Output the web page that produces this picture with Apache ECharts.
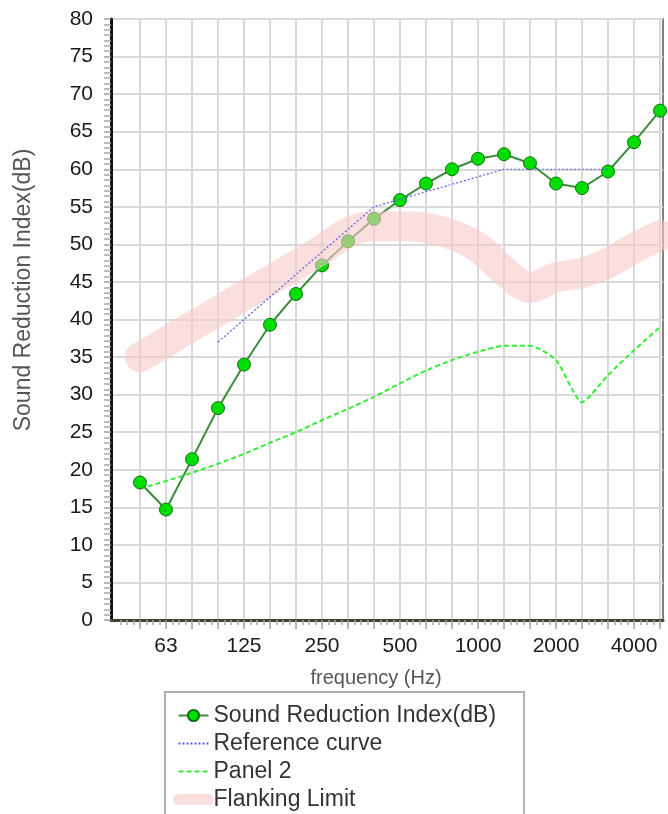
<!DOCTYPE html>
<html><head><meta charset="utf-8">
<script src="https://cdn.jsdelivr.net/npm/echarts@6/dist/echarts.min.js"></script>
<style>html,body{margin:0;padding:0;background:#fff}#c{width:668px;height:814px}</style>
</head><body><div id="c"></div>
<script>
// third-octave band centre frequencies (Hz)
const bands = ['50','63','80','100','125','160','200','250','315','400','500','630','800','1000','1250','1600','2000','2500','3150','4000','5000'];
const xTickLabels = ['63','125','250','500','1000','2000','4000'];
const yTicks = [0,5,10,15,20,25,30,35,40,45,50,55,60,65,70,75,80];

const soundReduction = [18.3,14.7,21.4,28.2,34.0,39.3,43.4,47.2,50.4,53.4,55.9,58.1,60.0,61.4,62.0,60.8,58.1,57.5,59.7,63.6,67.8];
const referenceCurve = [null,null,null,37,40,43,46,49,52,55,56,57,58,59,60,60,60,60,60,null,null];
const panel2 = [17.5,18.5,19.6,20.8,22.1,23.6,25.0,26.6,28.1,29.7,31.5,33.2,34.6,35.7,36.5,36.5,34.6,29.0,32.6,35.9,39.0];
const flankingLimit = [35.0,37.0,39.1,41.1,43.2,45.2,47.2,49.3,51.6,52.4,52.4,52.2,51.3,49.6,46.5,44.2,45.6,46.2,47.5,49.5,51.2];

const FF = '"Liberation Sans", Arial, sans-serif';
const toPairs = arr => arr.map((v, i) => [i, v]);
const majorTicks = bands.map((b, i) => i);
const minorTicks = [];
for (let i = -1; i < bands.length - 1; i++) { for (let k = 1; k < 4; k++) minorTicks.push(i + k / 4); }
const labelIdx = xTickLabels.map(l => bands.indexOf(l));
const XMIN = -1.115, XMAX = bands.length - 1 + 0.115;
const FLANK = 'rgba(248,200,200,0.6)';

const chart = echarts.init(document.getElementById('c'), null, {renderer: 'canvas'});
chart.setOption({
  animation: false,
  backgroundColor: '#fff',
  grid: {left: 111, top: 19, width: 552, height: 601, show: true, borderColor: '#808080', borderWidth: 2, backgroundColor: 'transparent'},
  xAxis: [{
    type: 'value', min: XMIN, max: XMAX, position: 'bottom',
    axisLine: {show: true, onZero: false, lineStyle: {color: '#3c4632', width: 3}},
    axisTick: {show: true, customValues: majorTicks, length: 9, lineStyle: {color: '#a0a0a0', width: 1.5}},
    axisLabel: {show: true, customValues: labelIdx, margin: 16, fontSize: 21, color: '#1a1a1a', fontFamily: FF,
      formatter: v => bands[Math.round(v)]},
    splitLine: {show: true, lineStyle: {color: '#d9d9d9', width: 2}}
  }, {
    type: 'value', min: XMIN, max: XMAX, position: 'bottom',
    axisLine: {show: false, onZero: false},
    axisTick: {show: true, customValues: minorTicks, length: 5, lineStyle: {color: '#a8a8a8', width: 1.5}},
    axisLabel: {show: false},
    splitLine: {show: false}
  }],
  yAxis: {
    type: 'value', min: yTicks[0], max: yTicks[yTicks.length - 1], interval: 5,
    axisLine: {show: true, onZero: false, lineStyle: {color: '#111', width: 3}},
    axisTick: {show: true, length: 7, lineStyle: {color: '#a0a0a0', width: 1.5}},
    minorTick: {show: true, splitNumber: 7, length: 7, lineStyle: {color: '#a8a8a8', width: 1.5}},
    axisLabel: {fontSize: 21, color: '#1a1a1a', margin: 18, fontFamily: FF},
    splitLine: {show: true, lineStyle: {color: '#d9d9d9', width: 2}}
  },
  legend: {
    orient: 'vertical', left: 165, top: 692, height: 160, padding: [12, 28, 14, 8],
    itemWidth: 30, itemHeight: 14, itemGap: 5, selectedMode: false,
    borderColor: '#b0b0b0', borderWidth: 2, backgroundColor: '#fff',
    textStyle: {fontSize: 23, color: '#333', fontFamily: FF},
    data: [
      {name: 'Sound Reduction Index(dB)'},
      {name: 'Reference curve', itemStyle: {opacity: 0}},
      {name: 'Panel 2', itemStyle: {opacity: 0}},
      {name: 'Flanking Limit', itemStyle: {opacity: 0}, lineStyle: {width: 11}}
    ]
  },
  graphic: [
    {type: 'text', x: 24, y: 290, rotation: Math.PI / 2,
      style: {text: 'Sound Reduction Index(dB)', fontSize: 23, fontFamily: FF, fill: '#555', align: 'center', verticalAlign: 'middle', textAlign: 'center', textVerticalAlign: 'middle'}},
    {type: 'text', x: 376, y: 678,
      style: {text: 'frequency (Hz)', fontSize: 20, fontFamily: FF, fill: '#555', align: 'center', verticalAlign: 'middle', textAlign: 'center', textVerticalAlign: 'middle'}}
  ],
  series: [
    {name: 'Sound Reduction Index(dB)', type: 'line', data: toPairs(soundReduction), z: 2,
      symbol: 'circle', symbolSize: 13,
      lineStyle: {color: '#3c8c3c', width: 2},
      itemStyle: {color: '#00dd00', borderColor: '#107010', borderWidth: 1}},
    {name: 'Panel 2', type: 'line', data: toPairs(panel2), z: 2, symbol: 'none', smooth: 0.2,
      lineStyle: {color: '#33ee33', width: 2, type: [5, 3]},
      itemStyle: {color: '#33cc33'}},
    {name: 'Flanking Limit', type: 'line', data: toPairs(flankingLimit), z: 3, symbol: 'none', smooth: 0.3,
      lineStyle: {color: FLANK, width: 30, cap: 'round', join: 'round'},
      itemStyle: {color: FLANK}},
    {name: 'Reference curve', type: 'line', data: toPairs(referenceCurve), z: 4, symbol: 'none',
      lineStyle: {color: '#5a5aee', width: 1.2, type: [2, 2]},
      itemStyle: {color: '#9ab8ee'}}
  ]
});
</script></body></html>
